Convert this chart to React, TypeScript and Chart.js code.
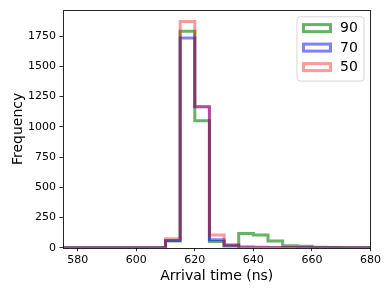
import React, { useEffect, useRef } from "react";
import { Chart, registerables } from "chart.js";

Chart.register(...registerables);

// Bin edges (ns): 575 .. 680, width 5
const binEdges = [575, 580, 585, 590, 595, 600, 605, 610, 615, 620, 625, 630, 635, 640, 645, 650, 655, 660, 665, 670, 675, 680];
const seriesLabels = ["90", "70", "50"];
const counts90 = [0, 0, 0, 0, 0, 0, 0, 55, 1790, 1050, 52, 12, 118, 104, 55, 16, 12, 3, 1, 0, 0];
const counts70 = [0, 0, 0, 0, 0, 0, 0, 60, 1735, 1165, 65, 20, 5, 3, 2, 1, 1, 0, 0, 0, 0];
const counts50 = [0, 0, 0, 0, 0, 0, 0, 75, 1870, 1165, 105, 24, 3, 2, 1, 1, 0, 0, 0, 0, 0];
const seriesColors = ["rgba(0,128,0,0.6)", "rgba(0,0,255,0.5)", "rgba(255,0,0,0.4)"];
const xTicks = [580, 600, 620, 640, 660, 680];
const yTicks = [0, 250, 500, 750, 1000, 1250, 1500, 1750];

function stepOutline(edges: number[], counts: number[]) {
  const pts: { x: number; y: number }[] = [{ x: edges[0], y: 0 }];
  for (let i = 0; i < counts.length; i++) {
    pts.push({ x: edges[i], y: counts[i] });
    pts.push({ x: edges[i + 1], y: counts[i] });
  }
  pts.push({ x: edges[edges.length - 1], y: 0 });
  return pts;
}

const FONT = "'DejaVu Sans', sans-serif";

const framePlugin = {
  id: "frame",
  afterDatasetsDraw(chart: any) {
    const { ctx, chartArea } = chart;
    ctx.save();
    ctx.strokeStyle = "rgba(0,0,0,0.85)";
    ctx.lineWidth = 1;
    ctx.strokeRect(
      Math.round(chartArea.left) + 0.5,
      Math.round(chartArea.top) + 0.5,
      Math.round(chartArea.right) - Math.round(chartArea.left) - 1,
      Math.round(chartArea.bottom) - Math.round(chartArea.top)
    );
    ctx.restore();
  },
};

const legendPlugin = {
  id: "mplLegend",
  afterDraw(chart: any) {
    const { ctx, chartArea } = chart;
    const ds = chart.data.datasets;
    const boxRight = chartArea.right - 6.5;
    const boxTop = chartArea.top + 6.7;
    const boxW = 67;
    const boxH = 64.3;
    const left = boxRight - boxW;
    ctx.save();
    ctx.beginPath();
    const r = 3;
    ctx.moveTo(left + r, boxTop);
    ctx.lineTo(left + boxW - r, boxTop);
    ctx.quadraticCurveTo(left + boxW, boxTop, left + boxW, boxTop + r);
    ctx.lineTo(left + boxW, boxTop + boxH - r);
    ctx.quadraticCurveTo(left + boxW, boxTop + boxH, left + boxW - r, boxTop + boxH);
    ctx.lineTo(left + r, boxTop + boxH);
    ctx.quadraticCurveTo(left, boxTop + boxH, left, boxTop + boxH - r);
    ctx.lineTo(left, boxTop + r);
    ctx.quadraticCurveTo(left, boxTop, left + r, boxTop);
    ctx.closePath();
    ctx.fillStyle = "rgba(255,255,255,0.8)";
    ctx.fill();
    ctx.strokeStyle = "rgba(204,204,204,0.8)";
    ctx.lineWidth = 1;
    ctx.stroke();

    ctx.font = `14px ${FONT}`;
    ctx.textBaseline = "middle";
    ctx.textAlign = "left";
    for (let i = 0; i < ds.length; i++) {
      const cy = boxTop + 11.3 + i * 19.5;
      ctx.strokeStyle = ds[i].borderColor;
      ctx.lineWidth = 3;
      ctx.lineJoin = "miter";
      ctx.strokeRect(left + 6.5, cy - 3.5, 27, 7);
      ctx.fillStyle = "#000";
      ctx.fillText(ds[i].label, left + 43, cy + 0.5);
    }
    ctx.restore();
  },
};

export default function App() {
  const ref = useRef<HTMLCanvasElement>(null);
  useEffect(() => {
    const allCounts = [counts90, counts70, counts50];
    const chart = new Chart(ref.current as HTMLCanvasElement, {
      type: "line",
      data: {
        datasets: seriesLabels.map((label, i) => ({
          label,
          data: stepOutline(binEdges, allCounts[i]),
          borderColor: seriesColors[i],
          borderWidth: 3,
          borderJoinStyle: "miter",
          borderCapStyle: "butt",
          pointRadius: 0,
          pointHoverRadius: 0,
          tension: 0,
          fill: false,
          clip: 0,
          order: seriesLabels.length - 1 - i,
        })),
      },
      options: {
        animation: false,
        responsive: false,
        events: [],
        layout: { padding: { top: 9, right: 20.5, bottom: 0, left: 0 } },
        plugins: {
          legend: { display: false },
          tooltip: { enabled: false },
        },
        scales: {
          x: {
            type: "linear",
            min: 575,
            max: 680,
            afterBuildTicks: (scale: any) => {
              scale.ticks = xTicks.map((v) => ({ value: v }));
            },
            afterFit: (scale: any) => {
              scale.height = 45.3;
            },
            grid: {
              display: true,
              drawOnChartArea: false,
              drawTicks: true,
              tickLength: 3.5,
              tickWidth: 0.8,
              tickColor: "#000",
            },
            border: { display: false },
            ticks: {
              font: { family: FONT, size: 11 },
              color: "#000",
              padding: 2,
              maxRotation: 0,
              autoSkip: false,
              callback: (v: any) => String(v),
            },
            title: {
              display: true,
              text: "Arrival time (ns)",
              font: { family: FONT, size: 14 },
              color: "#000",
              padding: { top: 0, bottom: 8 },
            },
          },
          y: {
            type: "linear",
            min: 0,
            max: 1965,
            afterBuildTicks: (scale: any) => {
              scale.ticks = yTicks.map((v) => ({ value: v }));
            },
            afterFit: (scale: any) => {
              scale.width = 63;
            },
            grid: {
              display: true,
              drawOnChartArea: false,
              drawTicks: true,
              tickLength: 3.5,
              tickWidth: 0.8,
              tickColor: "#000",
            },
            border: { display: false },
            ticks: {
              font: { family: FONT, size: 11 },
              color: "#000",
              padding: 3.5,
              autoSkip: false,
              callback: (v: any) => String(v),
            },
            title: {
              display: true,
              text: "Frequency",
              font: { family: FONT, size: 14 },
              color: "#000",
              padding: { top: 9.5, bottom: 0 },
            },
          },
        },
      },
      plugins: [framePlugin, legendPlugin],
    } as any);
    return () => chart.destroy();
  }, []);
  return (
    <div style={{ position: "fixed", left: 0, top: 0, width: 391, height: 293, background: "#fff" }}>
      <canvas ref={ref} width={391} height={293} style={{ display: "block" }} />
    </div>
  );
}
